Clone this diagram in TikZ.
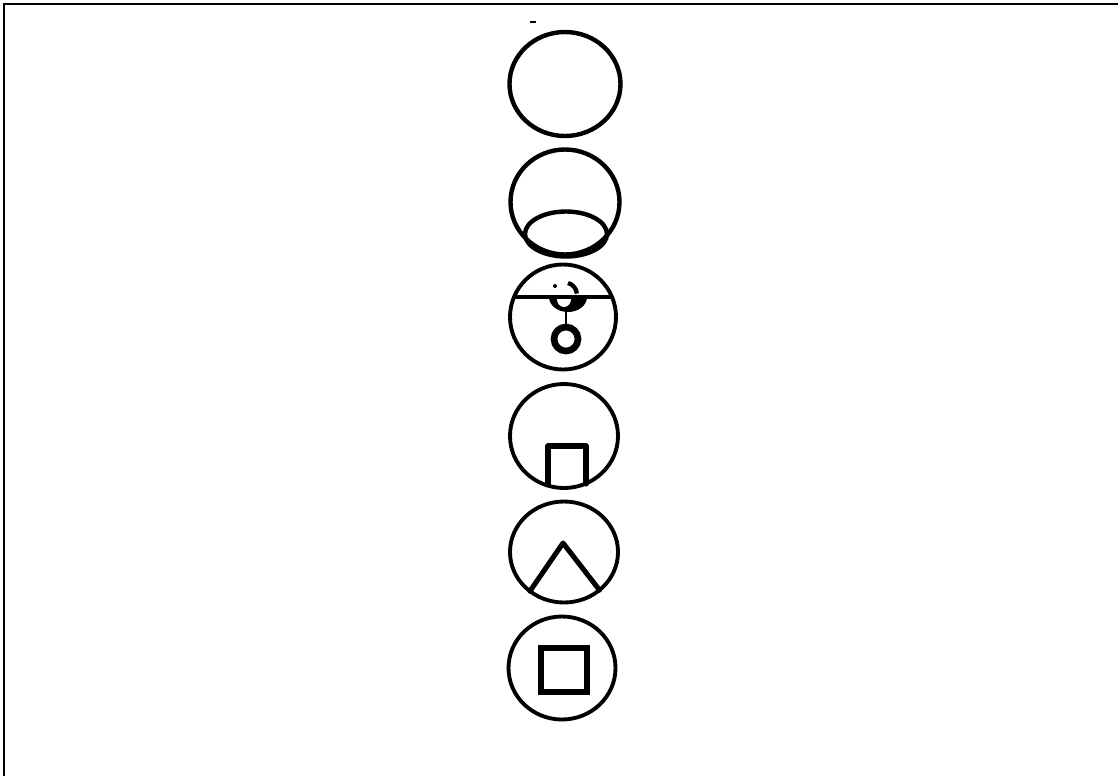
\documentclass[tikz,border=0pt]{standalone}
\usetikzlibrary{shapes.geometric}
\begin{document}
\begin{tikzpicture}[x=0.75pt,y=-0.75pt,
  ring/.style={ellipse,draw,inner sep=0pt,outer sep=0pt,line width=3.3pt},
  thinring/.style={ring,line width=2.9pt},
  ink/.style={line width=3.8pt,line join=round,line cap=round}]
\useasboundingbox (0,0) rectangle (1118,776);
% frame (top and left edges)
\draw[line width=1.5pt] (3.5,776) -- (3.5,3.5) -- (1118,3.5);
% speck
\draw[line width=1.6pt] (530,22) -- (536,22);
% 1
\node[ring,minimum width={111*0.75pt},minimum height={104*0.75pt}] (c1) at (565,84) {};
% 2
\node[ring,minimum width={109*0.75pt},minimum height={105*0.75pt}] (c2) at (565,202) {};
\node[ring,minimum width={82*0.75pt},minimum height={45*0.75pt}] (e2) at (566,234) {};
% 3
\node[thinring,minimum width={106*0.75pt},minimum height={105*0.75pt}] (c3) at (563,317) {};
\fill (549,297) arc[start angle=180,end angle=360,x radius=19,y radius=-15] -- cycle;
\fill[white] (557,299) arc[start angle=180,end angle=360,x radius=7,y radius=-8] -- cycle;
\draw[line width=2.6pt] (c3.158) -- (c3.22);
\fill (555,286) circle[radius=2];
\draw[line width=3.2pt] (568,283) arc[start angle=-75,end angle=-5,radius=12];
\node[draw,circle,line width=5pt,minimum size={24*0.75pt},inner sep=0pt] (s3) at (566,339) {};
\draw[line width=1.5pt] (566,312) -- (s3.north);
% 4
\node[thinring,minimum width={108*0.75pt},minimum height={104*0.75pt}] (c4) at (564,436) {};
\draw[ink] (548,484) -- (548,446) -- (586,446) -- (586,484);
% 5
\node[thinring,minimum width={108*0.75pt},minimum height={101*0.75pt}] (c5) at (564,552) {};
\coordinate (apex) at (563,543);
\draw[ink] (c5.-131) -- (apex) -- (c5.-47);
% 6
\node[thinring,minimum width={107*0.75pt},minimum height={103*0.75pt}] (c6) at (562,668) {};
\draw[line width=4.4pt] (541,648) rectangle (587,692);
\end{tikzpicture}
\end{document}
